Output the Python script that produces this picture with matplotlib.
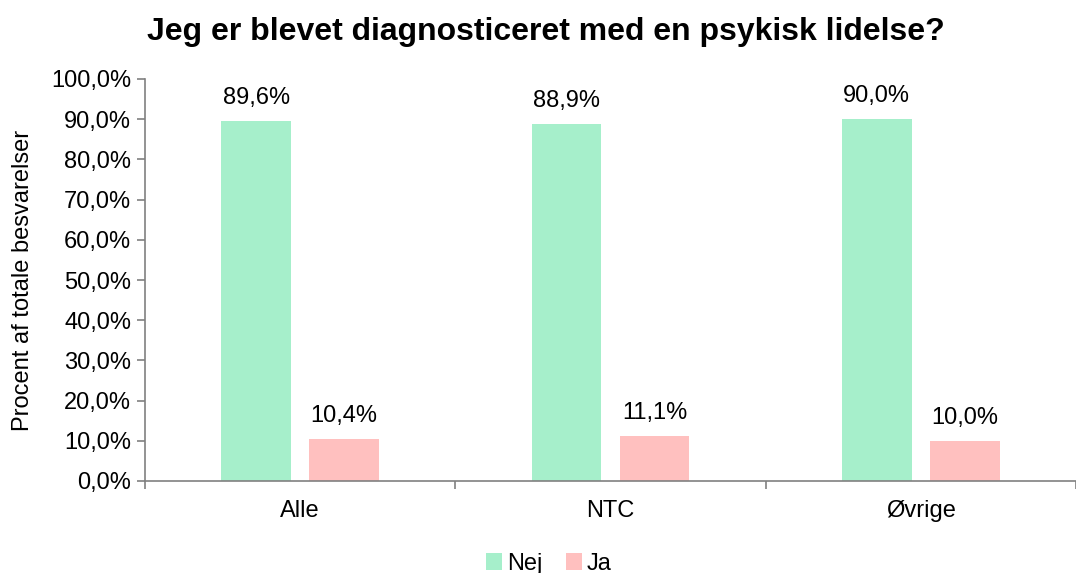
import matplotlib
matplotlib.use("Agg")
import matplotlib.pyplot as plt
import numpy as np
from matplotlib.ticker import FixedLocator, FuncFormatter

# data
grupper = ["Alle", "NTC", "Øvrige"]
nej = [89.6, 88.9, 90.0]
ja = [10.4, 11.1, 10.0]
serier = ["Nej", "Ja"]
farver = ["#A6EFCB", "#FFC0BF"]

plt.rcParams['font.family'] = ['Liberation Sans', 'DejaVu Sans']

fig = plt.figure(figsize=(10.76, 5.73), dpi=100)
ax = fig.add_axes([145 / 1076, 92 / 573, 931 / 1076, 402 / 573])

x = np.arange(len(grupper))
bredde = 0.224
forskyd = 0.142

for i, (vals, navn) in enumerate(zip([nej, ja], serier)):
    pos = x + (-forskyd if i == 0 else forskyd)
    ax.bar(pos, vals, width=bredde, color=farver[i], label=navn, zorder=2)
    for p, v in zip(pos, vals):
        ax.text(p, v + 3.0, f"{v:.1f}%".replace(".", ","), ha="center",
                va="bottom", fontsize=17)

ax.set_xlim(-0.5, 2.45)
ax.set_ylim(0, 100)
ax.yaxis.set_major_locator(FixedLocator(np.arange(0, 101, 10)))
ax.yaxis.set_major_formatter(FuncFormatter(lambda v, p: f"{v:.1f}%".replace(".", ",")))

# kategorinavne i midten, tick-streger mellem grupperne
ax.set_xticks([-0.5, 0.5, 1.5, 2.5])
ax.set_xticklabels([])
ax.set_xticks(x, minor=True)
ax.set_xticklabels(grupper, minor=True, fontsize=17)
ax.tick_params(axis="x", which="minor", length=0, pad=14)
ax.tick_params(axis="x", which="major", length=6, direction="out", color="#808080", width=1.2)
ax.tick_params(axis="y", length=6, direction="out", color="#808080", width=1.2,
               labelsize=17, pad=4)

for s in ["top", "right"]:
    ax.spines[s].set_visible(False)
for s in ["left", "bottom"]:
    ax.spines[s].set_color("#808080")
    ax.spines[s].set_linewidth(1.2)

ax.set_ylabel("Procent af totale besvarelser", fontsize=17, labelpad=12)
fig.text(0.507, 0.945, "Jeg er blevet diagnosticeret med en psykisk lidelse?",
         ha="center", va="center", fontsize=23, fontweight="bold")

fig.legend(loc="center", bbox_to_anchor=(0.51, 0.016), ncol=2, frameon=False,
           fontsize=17, handlelength=0.7, handleheight=0.7, handletextpad=0.2,
           columnspacing=1.0)

fig.savefig("out.png", dpi=100)
